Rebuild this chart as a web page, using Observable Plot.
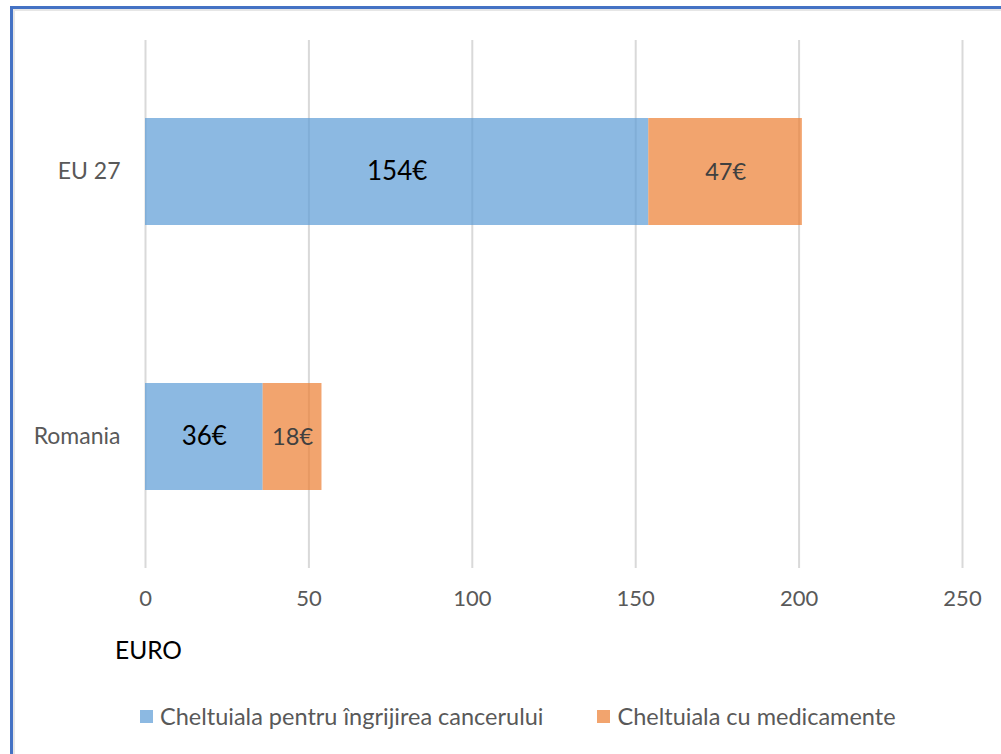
<!DOCTYPE html>
<html>
<head>
<meta charset="utf-8">
<script src="https://cdn.jsdelivr.net/npm/d3@7"></script>
<script src="https://cdn.jsdelivr.net/npm/@observablehq/plot@0.6"></script>
<style>
  html, body { margin: 0; padding: 0; background: #fff; width: 1001px; height: 754px; overflow: hidden; }
  body { position: relative; font-family: Lato, "Open Sans", sans-serif; }
  #frame { position: absolute; left: 10px; top: 6px; width: 1100px; height: 800px;
           border-left: 3px solid #4472C4; border-top: 3px solid #4472C4;
           box-shadow: inset 2px 2px 0 #e6e6e6; }
  #chart { position: absolute; left: 0; top: 0; }
  #unit { position: absolute; left: 115px; top: 634px; font-size: 24.5px; line-height: 32px; color: #000; }
  #legend { position: absolute; left: 140px; top: 700px; display: flex; align-items: center; font-size: 23.5px; line-height: 32px; color: #595959; }
  .item { display: flex; align-items: center; margin-right: 54px; }
  .sw { width: 13px; height: 13px; margin-right: 7px; }
</style>
</head>
<body>
<div id="frame"></div>
<div id="chart"></div>
<div id="unit">EURO</div>
<div id="legend"></div>
<script>
const countries = ["EU 27", "Romania"];
const seriesNames = ["Cheltuiala pentru îngrijirea cancerului", "Cheltuiala cu medicamente"];
const careValues = [154, 36];
const medicineValues = [47, 18];
const xTicks = [0, 50, 100, 150, 200, 250];
const seriesColors = ["#5B9BD5", "#ED7D31"];
const unitLabel = "EURO";

const rows = [];
countries.forEach((c, i) => {
  rows.push({country: c, series: seriesNames[0], value: careValues[i]});
  rows.push({country: c, series: seriesNames[1], value: medicineValues[i]});
});

const plot = Plot.plot({
  width: 1001,
  height: 620,
  marginLeft: 145,
  marginRight: 39,
  marginTop: 40,
  marginBottom: 52,
  style: {fontFamily: "Lato, 'Open Sans', sans-serif", background: "transparent"},
  x: {domain: [0, 250], ticks: xTicks, label: null},
  y: {domain: countries, paddingInner: 0.596, paddingOuter: 0.294, label: null},
  color: {domain: seriesNames, range: seriesColors},
  marks: [
    Plot.ruleX(xTicks, {x: d => d, stroke: "#d9d9d9", strokeWidth: 2}),
    Plot.barX(rows, {x: "value", y: "country", fill: "series", fillOpacity: 0.7, order: seriesNames}),
    Plot.text(rows, Plot.stackX({x: "value", y: "country", order: seriesNames, z: "series",
      text: d => d.series === seriesNames[0] ? d.value + "€" : "",
      fill: "#000", fontSize: 26})),
    Plot.text(rows, Plot.stackX({x: "value", y: "country", order: seriesNames, z: "series",
      text: d => d.series === seriesNames[1] ? d.value + "€" : "",
      fill: "#404040", fontSize: 23.5})),
    Plot.axisX({ticks: xTicks, tickSize: 0, tickPadding: 22, fontSize: 22, color: "#595959", label: null}),
    Plot.axisY({tickSize: 0, tickPadding: 25, fontSize: 23, color: "#595959", label: null})
  ]
});
document.getElementById("chart").appendChild(plot);
document.getElementById("unit").textContent = unitLabel;

const legend = document.getElementById("legend");
seriesNames.forEach((s, i) => {
  const item = document.createElement("div");
  item.className = "item";
  const sw = document.createElement("div");
  sw.className = "sw";
  sw.style.background = seriesColors[i];
  sw.style.opacity = 0.7;
  const t = document.createElement("span");
  t.textContent = s;
  item.appendChild(sw); item.appendChild(t);
  legend.appendChild(item);
});
</script>
</body>
</html>
